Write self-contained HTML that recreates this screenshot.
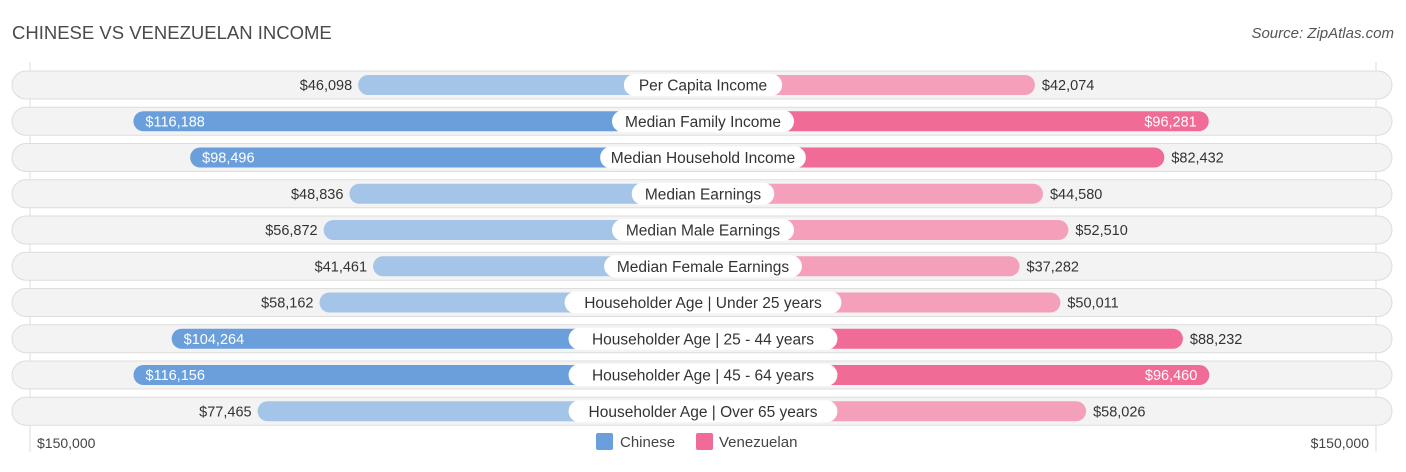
<!DOCTYPE html>
<html><head><meta charset="utf-8"><style>
body{margin:0;background:#fff;font-family:"Liberation Sans",sans-serif;}
</style></head><body>
<svg id="c" width="1406" height="467" xmlns="http://www.w3.org/2000/svg" font-family="Liberation Sans, sans-serif">
<text x="12" y="39" font-size="18.5" fill="#4a4a4a">CHINESE VS VENEZUELAN INCOME</text>
<text x="1394" y="38" font-size="15" fill="#555" font-style="italic" text-anchor="end">Source: ZipAtlas.com</text>
<line x1="30" y1="62" x2="30" y2="452" stroke="#ddd"/>
<line x1="1376" y1="62" x2="1376" y2="452" stroke="#ddd"/>
<g id="rows"></g>
<text x="37" y="448" font-size="14" fill="#444">$150,000</text>
<text x="1369" y="448" font-size="14" fill="#444" text-anchor="end">$150,000</text>
<rect x="596" y="433" width="17" height="17" rx="2" fill="#6a9fdc"/>
<text x="620" y="447" font-size="15" fill="#444">Chinese</text>
<rect x="696" y="433" width="17" height="17" rx="2" fill="#f06b96"/>
<text x="719" y="447" font-size="15" fill="#444">Venezuelan</text>
</svg>
<script>
const categories=["Per Capita Income","Median Family Income","Median Household Income","Median Earnings","Median Male Earnings","Median Female Earnings","Householder Age | Under 25 years","Householder Age | 25 - 44 years","Householder Age | 45 - 64 years","Householder Age | Over 65 years"];
const chinese=[46098,116188,98496,48836,56872,41461,58162,104264,116156,77465];
const venezuelan=[42074,96281,82432,44580,52510,37282,50011,88232,96460,58026];
const maxVal=150000;
const NS="http://www.w3.org/2000/svg";
const cx=703, off=197, span=481;
function len(v){return off+v/maxVal*span;}
function rowY(i){return 85+i*36.25;}
function fmt(v){return "$"+v.toLocaleString("en-US");}
const g=document.getElementById("rows");
function mk(tag,attrs,name){const e=document.createElementNS(NS,tag);for(const k in attrs)e.setAttribute(k,attrs[k]);


g.appendChild(e);return e;}
categories.forEach((cat,i)=>{
  const y=rowY(i);
  mk("rect",{x:12,y:y-14,width:1380,height:28,rx:14,fill:"#f3f3f3",stroke:"#ddd"},"row-background");
  const lc=chinese[i], rc=venezuelan[i];
  const ll=len(lc), rl=len(rc);
  mk("rect",{x:cx-ll,y:y-10,width:ll,height:20,rx:10,fill:lc>80000?"#6a9fdc":"#a4c4e8"},"bar-chinese");
  mk("rect",{x:cx,y:y-10,width:rl,height:20,rx:10,fill:rc>80000?"#f06b96":"#f5a0bb"},"bar-venezuelan");
  let t;
  if(lc>95000){t=mk("text",{x:cx-ll+12,y:y+5,"font-size":14.5,fill:"#fff"},"value-chinese");}
  else{t=mk("text",{x:cx-ll-6,y:y+5,"font-size":14.5,fill:"#333","text-anchor":"end"},"value-chinese");}
  t.textContent=fmt(lc);
  if(rc>95000){t=mk("text",{x:cx+rl-12,y:y+5,"font-size":14.5,fill:"#fff","text-anchor":"end"},"value-venezuelan");}
  else{t=mk("text",{x:cx+rl+7,y:y+5,"font-size":14.5,fill:"#333"},"value-venezuelan");}
  t.textContent=fmt(rc);
  const w=cat.length*7.9+24;
  mk("rect",{x:cx-w/2,y:y-11,width:w,height:22,rx:11,fill:"#fff"},"category-pill");
  t=mk("text",{x:cx,y:y+5.5,"font-size":15.5,fill:"#333","text-anchor":"middle"},"category-label");
  t.textContent=cat;
});
</script>
</body></html>
